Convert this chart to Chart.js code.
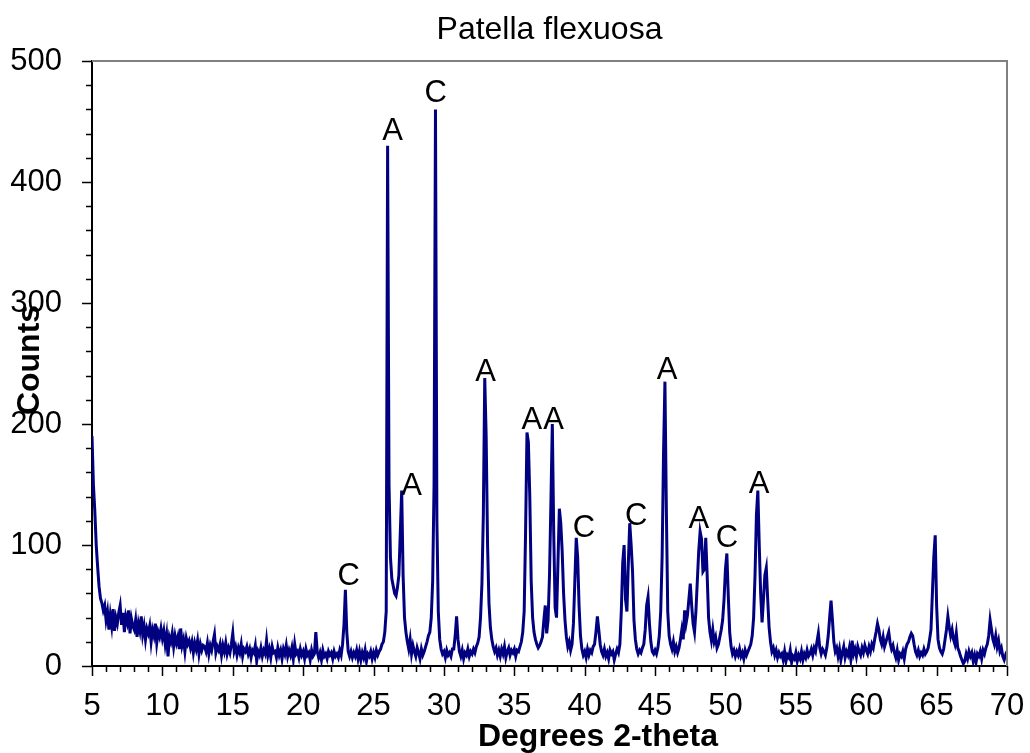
<!DOCTYPE html>
<html>
<head>
<meta charset="utf-8">
<title>Patella flexuosa</title>
<script src="https://cdn.jsdelivr.net/npm/chart.js@4.4.1/dist/chart.umd.min.js"></script>
<style>
  html, body { margin: 0; padding: 0; background: #ffffff; }
  #wrap { position: relative; width: 1030px; height: 753px; }
</style>
</head>
<body>
<div id="wrap"><canvas id="xrdChart"></canvas></div>
<script>
const CHART_TITLE = "Patella flexuosa";
const X_TITLE = "Degrees 2-theta";
const Y_TITLE = "Counts";
const FONT_FAMILY = "'Liberation Sans', Arial, Helvetica, sans-serif";
const LINE_COLOR = "#000080";

// scan starts at 5 degrees, one reading every 0.1 degree
const ANGLE_START = 5;
const ANGLE_STEP = 0.1;

// counts, 5.0 - 14.9
const counts05to15 = [
  190, 150, 128, 100, 82, 66, 56, 52, 46, 50,
  38, 45, 30, 42, 33, 47, 29, 40, 35, 44,
  50, 34, 44, 28, 41, 36, 46, 27, 39, 33,
  30, 38, 24, 35, 29, 41, 26, 33, 22, 31,
  27, 33, 20, 30, 25, 35, 19, 28, 24, 31,
  23, 29, 18, 26, 8, 24, 20, 27, 16, 25,
  19, 24, 14, 31, 17, 22, 12, 23, 18, 21,
  15, 20, 11, 19, 14, 21, 10, 18, 13, 17,
  16, 12, 19, 10, 17, 13, 20, 26, 11, 16,
  13, 18, 9, 17, 12, 19, 10, 15, 11, 18,
];
// counts, 15.0 - 24.9
const counts15to25 = [
  27, 12, 16, 9, 15, 11, 18, 8, 14, 12,
  16, 10, 14, 7, 13, 11, 17, 4, 12, 9,
  15, 8, 13, 10, 21, 9, 14, 7, 16, 11,
  12, 7, 15, 9, 13, 6, 14, 10, 17, 8,
  13, 9, 15, 6, 18, 10, 12, 7, 14, 9,
  12, 6, 14, 9, 11, 5, 13, 8, 10, 28,
  12, 7, 11, 5, 13, 8, 10, 6, 12, 9,
  11, 6, 12, 8, 10, 7, 13, 9, 18, 34,
  63, 28, 12, 8, 12, 7, 11, 8, 13, 6,
  12, 5, 11, 7, 13, 4, 10, 8, 12, 6,
];
// counts, 25.0 - 34.9
const counts25to35 = [
  11, 7, 13, 9, 12, 14, 18, 20, 28, 45,
  430, 150, 90, 72, 66, 60, 58, 65, 75, 110,
  145, 75, 40, 28, 20, 14, 22, 10, 17, 12,
  8, 15, 11, 6, 14, 9, 12, 16, 20, 25,
  28, 40, 70, 150, 460, 120, 45, 22, 14, 10,
  12, 7, 13, 9, 11, 8, 14, 14, 25, 41,
  22, 12, 8, 13, 6, 11, 9, 14, 8, 12,
  10, 14, 11, 16, 19, 24, 40, 68, 125, 238,
  190, 100, 52, 32, 22, 16, 12, 15, 9, 13,
  8, 14, 10, 16, 7, 12, 15, 9, 13, 11,
];
// counts, 35.0 - 44.9
const counts35to45 = [
  14, 8, 13, 12, 16, 20, 28, 45, 110, 193,
  185, 140, 70, 40, 28, 22, 18, 15, 17, 20,
  24, 38, 50, 27, 38, 75, 135, 200, 110, 48,
  40, 85, 130, 118, 95, 60, 38, 24, 16, 20,
  13, 18, 35, 70, 106, 90, 50, 25, 14, 9,
  12, 7, 14, 9, 13, 11, 16, 18, 28, 41,
  30, 18, 12, 9, 14, 8, 11, 6, 13, 10,
  12, 5, 10, 14, 11, 18, 45, 85, 100, 55,
  45, 85, 118, 100, 78, 38, 22, 14, 10, 13,
  11, 15, 18, 30, 50, 57, 35, 20, 12, 10,
];
// counts, 45.0 - 54.9
const counts45to55 = [
  13, 10, 15, 25, 45, 90, 175, 235, 130, 45,
  25, 18, 14, 20, 12, 16, 11, 15, 22, 30,
  22, 46, 35, 42, 55, 68, 50, 35, 28, 45,
  70, 95, 111, 105, 78, 80, 106, 75, 40, 28,
  21, 30, 20, 24, 15, 18, 24, 30, 38, 55,
  80, 93, 58, 28, 16, 10, 13, 8, 12, 9,
  14, 8, 11, 6, 13, 9, 12, 15, 18, 25,
  40, 75, 125, 145, 100, 60, 36, 55, 75, 81,
  55, 32, 20, 12, 15, 9, 13, 7, 11, 8,
  10, 5, 12, 4, 9, 7, 13, 3, 8, 6,
];
// counts, 55.0 - 64.9
const counts55to65 = [
  11, 4, 9, 6, 12, 5, 10, 7, 13, 8,
  10, 14, 9, 15, 12, 20, 27, 15, 10, 14,
  12, 9, 15, 25, 40, 54, 38, 20, 12, 15,
  8, 14, 5, 11, 16, 7, 12, 9, 15, 6,
  21, 10, 14, 8, 16, 12, 9, 15, 11, 17,
  13, 10, 16, 12, 18, 15, 22, 28, 35, 30,
  22, 18, 24, 16, 20, 24, 28, 19, 14, 17,
  11, 7, 13, 5, 10, 8, 12, 6, 14, 18,
  20, 24, 27, 25, 18, 12, 9, 13, 8, 11,
  9, 14, 10, 12, 15, 22, 30, 60, 90, 108,
];
// counts, 65.0 - 70.0
const counts65to70 = [
  50, 22, 15, 12, 10, 14, 22, 30, 41, 32,
  25, 30, 22, 18, 27, 15, 12, 8, 5, 2,
  4, 10, 6, 12, 8, 11, 4, 9, 3, 10,
  8, 12, 6, 13, 10, 15, 18, 25, 38, 30,
  22, 18, 25, 16, 21, 12, 15, 8, 5, 9,
  6,
];

// phase labels (A = aragonite, C = calcite), placed in data units
const peakPhases = ["C", "A", "A", "C", "A", "A", "A", "C", "C", "A", "A", "C", "A"];
const peakLabelAngles = [23.24, 26.36, 27.7, 29.41, 32.96, 36.25, 37.79, 39.94, 43.66, 45.86, 48.1, 50.11, 52.39];
const peakLabelCounts = [74, 442, 148, 473, 243, 203, 203, 114, 124, 244, 121, 105, 150];

const xTickValues = [5, 10, 15, 20, 25, 30, 35, 40, 45, 50, 55, 60, 65, 70];
const yTickValues = [0, 100, 200, 300, 400, 500];

function buildScanPoints() {
  const counts = [].concat(
    counts05to15, counts15to25, counts25to35,
    counts35to45, counts45to55, counts55to65, counts65to70,
  );
  return counts.map((value, i) => ({
    x: Math.round((ANGLE_START + i * ANGLE_STEP) * 10) / 10,
    y: value,
  }));
}

function font(size, weight) {
  return `${weight || "normal"} ${size}px ${FONT_FAMILY}`;
}

// minor/major tick marks, grey frame, titles and phase letters
const decorPlugin = {
  id: "decor",
  afterDraw(chart) {
    const { ctx, chartArea, scales } = chart;
    const x = scales.x;
    const y = scales.y;

    ctx.save();
    ctx.strokeStyle = "#808080";
    ctx.lineWidth = 2;
    ctx.beginPath();
    ctx.moveTo(chartArea.left, chartArea.top);
    ctx.lineTo(chartArea.right, chartArea.top);
    ctx.lineTo(chartArea.right, chartArea.bottom);
    ctx.stroke();

    ctx.strokeStyle = "#000000";
    ctx.lineWidth = 1.5;
    ctx.beginPath();
    for (let deg = 5; deg <= 70; deg += 1) {
      const px = Math.round(x.getPixelForValue(deg)) + 0.5;
      const len = deg % 5 === 0 ? 10 : 6;
      ctx.moveTo(px, chartArea.bottom);
      ctx.lineTo(px, chartArea.bottom + len);
    }
    for (let c = 0; c <= 500; c += 20) {
      const py = Math.round(y.getPixelForValue(c)) + 0.5;
      const len = c % 100 === 0 ? 10 : 6;
      ctx.moveTo(chartArea.left, py);
      ctx.lineTo(chartArea.left - len, py);
    }
    ctx.stroke();

    ctx.fillStyle = "#000000";
    ctx.textAlign = "center";
    ctx.textBaseline = "middle";

    ctx.font = font(31);
    peakPhases.forEach((letter, i) => {
      ctx.fillText(
        letter,
        x.getPixelForValue(peakLabelAngles[i]),
        y.getPixelForValue(peakLabelCounts[i]),
      );
    });

    ctx.font = font(32);
    ctx.fillText(CHART_TITLE, (chartArea.left + chartArea.right) / 2, 30);

    ctx.font = font(32, "bold");
    ctx.fillText(X_TITLE, 598, 737);

    ctx.translate(30, 360);
    ctx.rotate(-Math.PI / 2);
    ctx.fillText(Y_TITLE, 0, 0);
    ctx.restore();
  },
};

function renderScanChart() {
  const canvas = document.getElementById("xrdChart");
  if (!canvas || typeof Chart === "undefined") return;

  new Chart(canvas, {
    type: "line",
    data: {
      datasets: [
        {
          label: CHART_TITLE,
          data: buildScanPoints(),
          borderColor: LINE_COLOR,
          borderWidth: 3,
          pointRadius: 0,
          tension: 0,
          fill: false,
        },
      ],
    },
    options: {
      responsive: true,
      maintainAspectRatio: false,
      animation: false,
      events: [],
      layout: {
        padding: { top: 61, right: 23, left: 0, bottom: 0 },
      },
      plugins: {
        legend: { display: false },
        title: { display: false },
        tooltip: { enabled: false },
      },
      scales: {
        x: {
          type: "linear",
          min: 5,
          max: 70,
          afterBuildTicks(scale) {
            scale.ticks = xTickValues.map((value) => ({ value }));
          },
          afterFit(scale) {
            scale.height = 87;
            scale.paddingLeft = 0;
            scale.paddingRight = 0;
          },
          ticks: {
            color: "#000000",
            font: { family: FONT_FAMILY, size: 31 },
            padding: 22,
            maxRotation: 0,
            autoSkip: false,
          },
          grid: { display: false, drawTicks: false },
          border: { display: true, color: "#000000", width: 2 },
        },
        y: {
          type: "linear",
          min: 0,
          max: 500,
          afterBuildTicks(scale) {
            scale.ticks = yTickValues.map((value) => ({ value }));
          },
          afterFit(scale) {
            scale.width = 92;
            scale.paddingTop = 0;
            scale.paddingBottom = 0;
          },
          ticks: {
            color: "#000000",
            font: { family: FONT_FAMILY, size: 31 },
            padding: 30,
          },
          grid: { display: false, drawTicks: false },
          border: { display: true, color: "#000000", width: 2 },
        },
      },
    },
    plugins: [decorPlugin],
  });
}

renderScanChart();
</script>
</body>
</html>
